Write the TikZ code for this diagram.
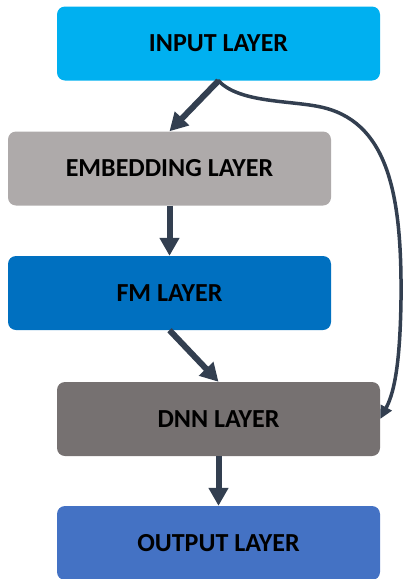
\documentclass[tikz,border=0pt]{standalone}
\usepackage{fontspec}
\setmainfont{Carlito}
\usepackage{xcolor}
\usepackage{tikz}
\usetikzlibrary{arrows.meta,positioning}
\definecolor{inputc}{HTML}{00B0F0}
\definecolor{embedc}{HTML}{AEAAAA}
\definecolor{fmc}{HTML}{0070C0}
\definecolor{dnnc}{HTML}{767171}
\definecolor{outc}{HTML}{4472C4}
\definecolor{arr}{HTML}{333F50}
\tikzset{
  layer/.style={rectangle, rounded corners=8pt, minimum width=323pt, minimum height=74pt,
    inner sep=0pt, text=black, font=\fontsize{26}{30}\selectfont\bfseries},
  flow/.style={draw=arr, line width=6pt, -{Triangle[length=18pt, width=19pt]}},
  skip/.style={draw=arr, line width=3.5pt, line cap=round, -{Triangle[length=13pt, width=12pt]}},
}
\begin{document}
\begin{tikzpicture}[x=1pt, y=-1pt]
\useasboundingbox (0,0) rectangle (405,579);
% layers
\node[layer, fill=inputc] (input) at (218.5,43.5) {INPUT LAYER};
\node[layer, fill=embedc] (embed) at (169.5,168.5) {EMBEDDING LAYER};
\node[layer, fill=fmc] (fm) at (169.5,293) {FM LAYER};
\node[layer, fill=dnnc] (dnn) at (218.5,419) {DNN LAYER};
\node[layer, fill=outc] (output) at (218.5,543) {OUTPUT LAYER};

% main path
\draw[flow] (input.south) -- (embed.north);
\draw[flow] (embed.south) -- (fm.north);
\draw[flow] (fm.south) -- (dnn.north);
\draw[flow] (dnn.south) -- (output.north);

% skip connection
\draw[skip] (input.south) .. controls (240,104) and (295,100) .. (325,108)
  .. controls (390,125) and (402,200) .. (401,300)
  .. controls (400,370) and (393,395) .. (dnn.east);
\end{tikzpicture}
\end{document}
